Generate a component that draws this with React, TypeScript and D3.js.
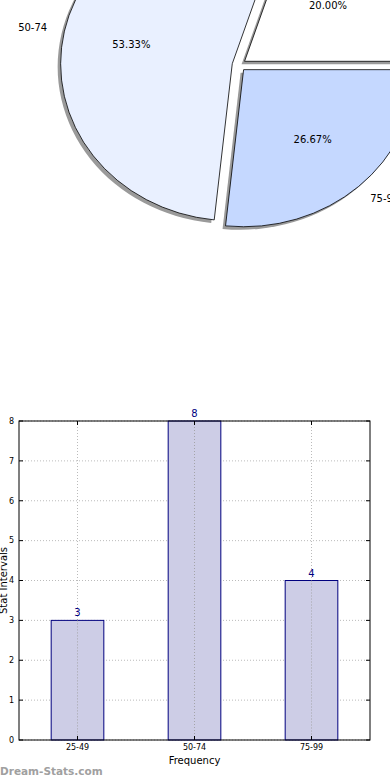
import React from 'react';
import * as d3 from 'd3';

const categories = ['25-49', '50-74', '75-99'];
const frequencies = [3, 8, 4];
const pieColors = ['#ffffff', '#e9f0ff', '#c5d8ff'];

const W = 390;
const H = 780;
const font = 'DejaVu Sans, sans-serif';

const Pie = () => {
  const cx = 239, cy = 65, rx = 172, ry = 157, explode = 0.04;
  const total = d3.sum(frequencies);
  // matplotlib style: start at 3 o'clock, go counterclockwise
  const slices = d3.pie<number>().sort(null).startAngle(Math.PI / 2).endAngle(Math.PI / 2 - 2 * Math.PI)(frequencies);
  const arc = d3.arc<d3.PieArcDatum<number>>().innerRadius(0).outerRadius(1);

  const dirOf = (s: d3.PieArcDatum<number>) => {
    const a = (s.startAngle + s.endAngle) / 2;
    return [Math.sin(a), -Math.cos(a)];
  };

  return (
    <g>
      {slices.map((s, i) => {
        const [dx, dy] = dirOf(s);
        const ox = cx + explode * rx * dx;
        const oy = cy + explode * ry * dy;
        return (
          <g key={i}>
            <path d={arc(s) || ''} transform={`translate(${ox - 3},${oy + 3}) scale(${rx},${ry})`} fill="#9a9a9a" />
            <path d={arc(s) || ''} transform={`translate(${ox},${oy}) scale(${rx},${ry})`} fill={pieColors[i]}
              stroke="#000" strokeWidth={0.8} vectorEffect="non-scaling-stroke" />
          </g>
        );
      })}
      {slices.map((s, i) => {
        const [dx, dy] = dirOf(s);
        const ox = cx + explode * rx * dx;
        const oy = cy + explode * ry * dy;
        return (
          <g key={'t' + i} fontFamily={font} fontSize={10}>
            <text x={ox + 0.6 * rx * dx} y={oy + 0.6 * ry * dy} textAnchor="middle" dy="0.35em">
              {((s.value / total) * 100).toFixed(2)}%
            </text>
            <text x={ox + 1.1 * rx * dx} y={oy + 1.1 * ry * dy} textAnchor={dx < 0 ? 'end' : 'start'} dy="0.35em">
              {categories[i]}
            </text>
          </g>
        );
      })}
    </g>
  );
};

const Bars = () => {
  const left = 19, right = 370, top = 421, bottom = 740;
  const x = d3.scaleLinear().domain([-0.5, categories.length - 0.5]).range([left, right]);
  const y = d3.scaleLinear().domain([0, 8]).range([bottom, top]);
  const bw = x(0.45) - x(0);
  const yTicks = y.ticks(8);

  return (
    <g fontFamily={font}>
      {yTicks.map((t) => (
        <line key={'gy' + t} x1={left} x2={right} y1={y(t)} y2={y(t)} stroke="#aaa" strokeWidth={0.8} strokeDasharray="1,2" />
      ))}
      {categories.map((c, i) => (
        <line key={'gx' + c} x1={x(i)} x2={x(i)} y1={top} y2={bottom} stroke="#aaa" strokeWidth={0.8} strokeDasharray="1,2" />
      ))}
      {frequencies.map((v, i) => (
        <g key={'b' + i}>
          <rect x={x(i) - bw / 2} y={y(v)} width={bw} height={bottom - y(v)} fill="#cdcde6" stroke="#00007f" strokeWidth={1} />
        </g>
      ))}
      {categories.map((c, i) => (
        <line key={'gx2' + c} x1={x(i)} x2={x(i)} y1={y(frequencies[i])} y2={bottom} stroke="#999" strokeWidth={0.8} strokeDasharray="1,2" />
      ))}
      {frequencies.map((v, i) => (
        <text key={'v' + i} x={x(i)} y={y(v) - 4} textAnchor="middle" fontSize={10} fill="#00007f">{v}</text>
      ))}
      <rect x={left} y={top} width={right - left} height={bottom - top} fill="none" stroke="#000" strokeWidth={1} />
      {yTicks.map((t) => (
        <g key={'ty' + t}>
          <line x1={left} x2={left + 4} y1={y(t)} y2={y(t)} stroke="#000" />
          <line x1={right - 4} x2={right} y1={y(t)} y2={y(t)} stroke="#000" />
          <text x={left - 5} y={y(t)} dy="0.35em" textAnchor="end" fontSize={8}>{t}</text>
        </g>
      ))}
      {categories.map((c, i) => (
        <g key={'tx' + c}>
          <line x1={x(i)} x2={x(i)} y1={bottom} y2={bottom - 4} stroke="#000" />
          <line x1={x(i)} x2={x(i)} y1={top} y2={top + 4} stroke="#000" />
          <text x={x(i)} y={bottom + 10} textAnchor="middle" fontSize={8}>{c}</text>
        </g>
      ))}
      <text x={(left + right) / 2} y={bottom + 24} textAnchor="middle" fontSize={10}>Frequency</text>
      <text transform={`translate(7,${(top + bottom) / 2}) rotate(-90)`} textAnchor="middle" fontSize={10}>Stat Intervals</text>
      <text x={0} y={775} fontSize={10.5} fontWeight="bold" fill="#a0a0a0">Dream-Stats.com</text>
    </g>
  );
};

export default function App() {
  return (
    <svg width={W} height={H} style={{ position: 'absolute', left: 0, top: 0, background: '#fff' }}>
      <Pie />
      <Bars />
    </svg>
  );
}
